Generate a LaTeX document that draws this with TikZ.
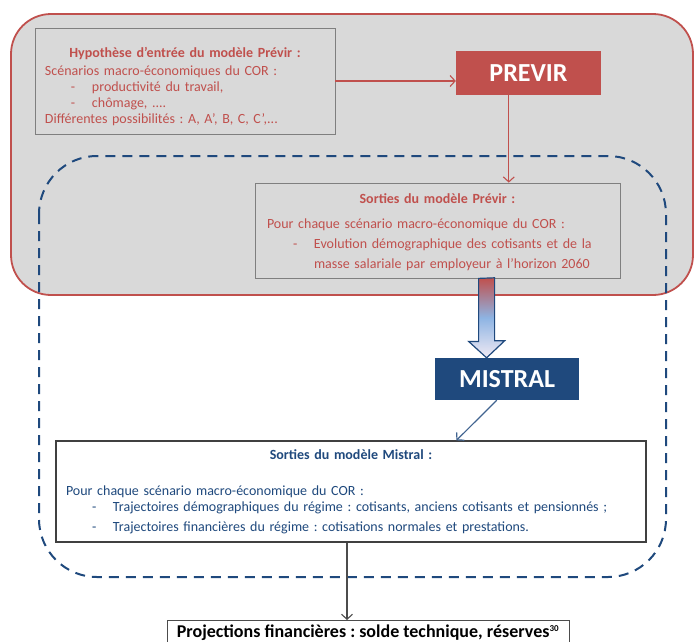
\documentclass[tikz,border=0pt]{standalone}
\usepackage{fontspec}
\setmainfont{Carlito}
\usepackage{xcolor}
\usetikzlibrary{arrows.meta,calc}
\frenchspacing
\definecolor{prevred}{HTML}{C0504D}
\definecolor{mistblue}{HTML}{1F497D}
\definecolor{zonegray}{HTML}{D9D9D9}
\definecolor{boxgray}{HTML}{7F7F7F}
\definecolor{arrowblue}{HTML}{8EB4E3}
\definecolor{arrowpale}{HTML}{F0EAF4}
\newcommand{\dashitem}{\makebox[47pt][l]{\hspace*{26pt}-}}
\newcommand{\itempad}{\hspace*{47pt}}
\newcommand{\boxtitle}[1]{\makebox[\linewidth]{\textbf{#1}}}
\tikzset{
  basenode/.style = {align=left, inner ysep=0pt, font=\fontsize{14}{16}\selectfont},
  prev_box/.style = {basenode, rectangle, draw=boxgray, text=prevred, line width=0.8pt},
  mist_box/.style = {basenode, rectangle, draw=black!75, fill=white, text=mistblue, line width=1.2pt},
  model_node/.style = {rectangle, text=white, inner sep=0pt, font=\fontsize{26}{30}\selectfont\bfseries},
  result_node/.style = {rectangle, draw=black!70, fill=white, line width=1pt, inner xsep=0pt, inner ysep=5pt, text height=12pt, text depth=5pt, font=\fontsize{18}{20}\selectfont\bfseries},
  prev_zone/.style = {draw=prevred, fill=zonegray, line width=1.8pt, rounded corners=40pt},
  mist_zone/.style = {draw=mistblue, line width=2pt, dash pattern=on 10pt off 7pt, rounded corners=58pt},
  red_link/.style = {->, color=prevred, line width=1.1pt},
  blue_link/.style = {->, color=mistblue!85, line width=1.2pt},
  gray_link/.style = {->, color=black!70, line width=1.1pt},
  block_arrow/.style = {draw=mistblue, line width=1.2pt, top color=prevred, bottom color=arrowpale, middle color=arrowblue},
}
\begin{document}
\begin{tikzpicture}[x=1pt,y=-1pt,>={Straight Barb[length=5pt,width=11pt]}]
    \useasboundingbox (0,0) rectangle (694,641);
    \clip (0,0) rectangle (694,641);
    \draw[prev_zone] (11,14) rectangle (693,295);
    \draw[mist_zone] (39,156) rectangle (666,577);
    \node[prev_box, minimum width=300pt, minimum height=106pt, text width=280pt] (hyp) at (185,81) {
        \boxtitle{\rule{0pt}{21.5pt}Hypothèse d’entrée du modèle Prévir :}\\[2pt]
        Scénarios macro-économiques du COR :\\
        \dashitem productivité du travail,\\
        \dashitem chômage, ....\\
        Différentes possibilités : A, A’, B, C, C’,...};
    \node[model_node, fill=prevred, minimum width=145pt, minimum height=44pt] (previr) at (528.5,73) {PREVIR};
    \node[prev_box, minimum width=365pt, minimum height=95pt, text width=341pt, font=\fontsize{14}{20}\selectfont] (sprev) at (437.5,230.5) {
        \boxtitle{\rule{0pt}{13pt}Sorties du modèle Prévir :}\\[5pt]
        Pour chaque scénario macro-économique du COR :\\
        \dashitem Evolution démographique des cotisants et de la\\
        \itempad masse salariale par employeur à l’horizon 2060};
    \node[model_node, fill=mistblue, minimum width=144pt, minimum height=42pt] (mistral) at (507,379) {MISTRAL};
    \node[mist_box, minimum width=590pt, minimum height=101pt, text width=570pt] (smist) at (351,491.5) {
        \boxtitle{Sorties du modèle Mistral :}\\[20pt]
        Pour chaque scénario macro-économique du COR :\\
        \dashitem Trajectoires démographiques du régime : cotisants, anciens cotisants et pensionnés ;\\[4pt]
        \dashitem Trajectoires financières du régime : cotisations normales et prestations.};
    \node[result_node, anchor=north, minimum width=402pt] (proj) at (368,620) {Projections financières : solde technique, réserves\textsuperscript{\fontsize{9}{9}\selectfont 30}};
    \draw[red_link] (hyp.east) -- (hyp.east -| previr.west);
    \draw[red_link] ($(previr.south west)+(53,0)$) coordinate (pdown) -- (pdown |- sprev.north);
    \coordinate (ar_top) at ($(sprev.south west)+(232,0)$);
    \shadedraw[block_arrow] (ar_top) ++(-8,0) -- ++(0,63) -- ++(-10,0) -- (ar_top |- mistral.north) -- ++(18,-17) -- ++(-10,0) -- ++(0,-63) -- cycle;
    \draw[blue_link] ($(mistral.south west)+(62,0)$) -- ($(smist.north west)+(401,0)$);
    \draw[gray_link] ($(smist.south)+(-4,0)$) coordinate (sdown) -- (sdown |- proj.north);
\end{tikzpicture}
\end{document}
